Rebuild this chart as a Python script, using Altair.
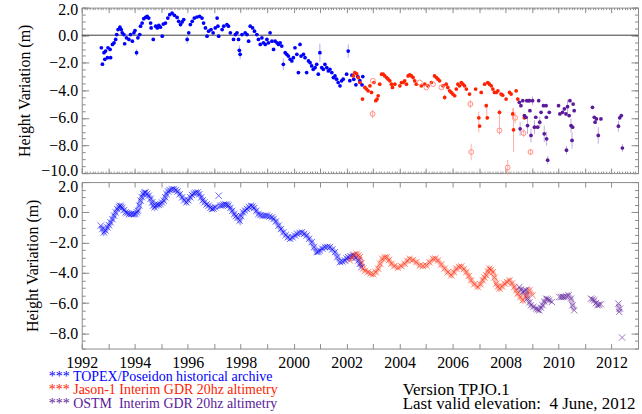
import altair as alt
import pandas as pd

# ---------------- data ----------------
# TOPEX/Poseidon, top panel (filled dots)
tp_year = [1992.74,1992.78,1992.84,1992.87,1992.90,1992.97,1992.99,1993.07,1993.09,1993.16,
           1993.22,1993.28,1993.32,1993.37,1993.44,1993.49,1993.53,1993.59,1993.62,1993.69,
           1993.78,1993.84,1993.91,1993.97,1994.01,1994.07,1994.12,1994.19,1994.22,1994.28,
           1994.34,1994.41,1994.47,1994.53,1994.60,1994.62,1994.70,1994.79,1994.85,1994.91,
           1994.97,1995.04,1995.08,1995.16,1995.25,1995.32,1995.41,1995.50,1995.60,1995.66,
           1995.73,1995.79,1995.85,1995.98,1996.04,1996.10,1996.17,1996.25,1996.35,1996.45,
           1996.54,1996.60,1996.67,1996.73,1996.79,1996.88,1996.96,1997.04,1997.11,1997.14,
           1997.17,1997.30,1997.36,1997.48,1997.54,1997.61,1997.73,1997.80,1997.86,1997.92,
           1997.95,1997.98,1998.05,1998.17,1998.24,1998.30,1998.36,1998.45,1998.52,1998.61,
           1998.67,1998.74,1998.80,1998.86,1998.93,1998.99,1999.05,1999.11,1999.18,1999.24,
           1999.30,1999.37,1999.43,1999.49,1999.55,1999.61,1999.68,1999.74,1999.80,1999.87,
           1999.93,1999.99,2000.05,2000.12,2000.18,2000.24,2000.28,2000.37,2000.43,2000.49,
           2000.56,2000.62,2000.68,2000.74,2000.81,2000.87,2000.93,2000.99,2001.06,2001.12,
           2001.18,2001.25,2001.31,2001.37,2001.44,2001.50,2001.56,2001.62,2001.68,2001.75,
           2001.81,2001.87,2002.00,2002.06,2002.12,2002.20,2002.27,2002.35,2002.42,2002.50,
           2002.58,2002.61]
tp_h = [-0.91,-2.10,-1.27,-1.75,-1.15,-1.63,-0.91,-1.03,-1.63,-0.67,
        -0.55,-0.31,0.05,0.41,0.58,0.41,0.17,0.05,-0.62,-0.19,
        -0.31,0.05,-0.43,0.17,0.34,-1.27,-0.19,0.05,0.65,0.88,
        1.20,1.29,1.37,1.24,0.88,0.53,-0.31,0.65,0.53,0.72,
        0.58,-0.07,0.81,0.88,1.24,1.49,1.60,1.44,1.29,1.01,
        0.77,0.96,1.13,-0.31,0.17,0.77,1.01,1.24,1.32,1.37,
        1.24,0.88,0.53,-0.07,0.29,0.41,0.17,0.53,1.24,0.65,
        -0.07,0.41,0.65,0.77,0.65,0.17,-0.31,0.05,0.17,-0.31,
        -1.10,-1.39,0.05,0.17,0.05,-0.43,0.65,0.53,0.29,0.05,
        -0.31,-0.67,-0.19,-0.55,-0.67,-0.31,-0.55,0.17,-0.43,-1.03,
        -0.43,-0.55,-0.67,-0.55,-0.79,-2.11,-1.27,-1.39,-1.51,-1.75,
        -1.87,-1.63,-0.91,-1.39,-2.71,-0.67,-1.51,-1.39,-1.63,-2.71,
        -1.87,-1.99,-2.23,-2.47,-2.35,-2.11,-2.83,-1.27,-2.35,-2.47,
        -2.11,-2.35,-2.59,-2.47,-2.71,-3.07,-2.95,-3.19,-3.43,-3.67,
        -3.31,-3.19,-2.83,-1.15,-3.30,-2.90,-3.20,-3.60,-3.00,-3.30,
        -3.60,-3.00]
tp_err_year = [1994.07, 1995.98, 1997.95, 1997.98, 1999.61, 2000.99, 2002.06]
tp_err_h = [-1.27, -0.31, -1.10, -1.39, -2.11, -1.27, -1.15]
tp_err_half = [0.25, 0.30, 0.35, 0.35, 0.42, 0.66, 0.48]

# Jason-1, top panel
j1_year = [2002.25,2002.31,2002.38,2002.44,2002.50,2002.60,2002.69,2002.75,2002.81,2002.88,
           2002.94,2003.03,2003.10,2003.15,2003.19,2003.25,2003.32,2003.38,2003.44,2003.51,
           2003.57,2003.63,2003.69,2003.73,2003.82,2004.01,2004.07,2004.13,2004.19,2004.26,
           2004.32,2004.38,2004.45,2004.51,2004.57,2004.63,2004.82,2004.95,2005.07,2005.20,
           2005.32,2005.39,2005.45,2005.51,2005.64,2005.70,2005.76,2005.82,2005.89,2005.95,
           2006.01,2006.08,2006.14,2006.20,2006.26,2006.33,2006.39,2006.45,2006.52,2006.64,
           2006.87,2006.99,2007.02,2007.08,2007.21,2007.27,2007.31,2007.33,2007.39,2007.46,
           2007.52,2007.58,2007.65,2007.71,2007.77,2007.83,2007.89,2008.02,2008.15,2008.21,
           2008.27,2008.30,2008.40,2008.46,2008.71]
j1_h = [-2.95,-2.71,-2.80,-3.07,-3.43,-4.63,-3.79,-3.91,-4.03,-3.67,
        -4.15,-3.43,-4.75,-4.63,-4.39,-3.55,-2.83,-2.83,-2.95,-3.07,
        -3.19,-3.31,-3.55,-3.79,-3.55,-3.67,-3.43,-3.43,-3.31,-3.55,
        -2.95,-2.88,-2.95,-3.07,-3.31,-3.55,-3.67,-3.55,-3.67,-3.43,
        -2.95,-3.07,-3.19,-3.31,-3.67,-4.51,-3.55,-3.79,-4.03,-4.15,
        -4.27,-4.39,-3.91,-3.55,-3.67,-3.43,-3.55,-3.67,-3.91,-4.27,
        -3.91,-5.99,-6.59,-4.15,-3.55,-5.11,-5.99,-3.43,-3.55,-3.67,
        -3.91,-4.15,-4.15,-4.03,-5.59,-4.27,-4.35,-4.63,-4.15,-4.27,
        -5.71,-6.86,-4.03,-4.63,-5.99]
j1o_year = [2002.98, 2002.99, 2004.76, 2005.01, 2005.26, 2005.58, 2006.67, 2006.70,
            2007.77, 2008.08, 2008.36, 2008.68, 2008.94]
j1o_h = [-5.71, -3.31, -3.43, -3.79, -3.55, -3.79, -4.99, -8.47,
         -6.91, -9.60, -5.99, -7.10, -8.47]
j1_err_year = [2002.98, 2005.70, 2006.67, 2006.70, 2006.99, 2007.29, 2007.77,
               2008.08, 2008.27, 2008.30, 2008.36, 2008.68, 2008.94]
j1_err_h = [-5.71, -4.51, -4.99, -8.47, -6.30, -5.55, -6.30,
            -9.60, -5.71, -6.86, -5.99, -7.10, -8.47]
j1_err_half = [0.30, 0.20, 0.30, 0.60, 0.75, 0.60, 0.90,
               0.55, 0.40, 1.60, 0.40, 0.30, 0.20]

# OSTM, top panel
os_year = [2008.52,2008.55,2008.58,2008.65,2008.71,2008.77,2008.80,2008.83,2008.86,2008.90,
           2008.92,2008.96,2009.02,2009.09,2009.14,2009.21,2009.25,2009.29,2009.34,2009.43,
           2009.46,2009.53,2009.54,2009.55,2009.59,2009.65,2010.00,2010.05,2010.15,2010.22,
           2010.28,2010.30,2010.34,2010.40,2010.43,2010.47,2010.51,2010.53,2010.55,2010.59,
           2011.28,2011.35,2011.38,2011.43,2011.50,2011.60,2012.26,2012.31,2012.37,2012.41]
os_h = [-4.87,-6.79,-5.11,-4.75,-5.83,-5.95,-4.75,-6.55,-4.75,-4.75,
        -5.47,-7.27,-4.75,-6.67,-5.95,-6.67,-4.75,-6.31,-5.59,-5.11,
        -7.15,-5.11,-5.95,-7.51,-9.06,-5.59,-5.11,-5.71,-5.59,-5.35,
        -5.71,-8.34,-5.18,-5.83,-4.75,-6.55,-7.63,-6.67,-4.99,-5.47,
        -5.23,-5.95,-6.31,-6.07,-7.27,-6.07,-6.60,-5.99,-5.83,-8.18]
os_err_year = [2008.55, 2008.83, 2008.96, 2009.02, 2009.09, 2009.29, 2009.46, 2009.55,
               2009.59, 2010.30, 2010.34, 2010.47, 2010.51, 2011.50, 2012.26, 2012.41]
os_err_h = [-6.79, -6.55, -7.27, -4.75, -6.67, -6.31, -7.15, -7.51,
            -9.06, -8.34, -5.18, -6.55, -7.63, -7.27, -6.60, -8.18]
os_err_half = [0.50, 0.60, 0.50, 0.30, 0.50, 0.40, 0.60, 0.50,
               0.30, 0.30, 0.50, 0.50, 0.60, 0.60, 0.40, 0.30]

# bottom panel (smoothed series, drawn with x marks)
tpb_year = [1992.72,1992.78,1992.84,1992.90,1992.97,1993.03,1993.09,1993.16,1993.22,1993.28,
            1993.34,1993.40,1993.44,1993.49,1993.53,1993.60,1993.66,1993.72,1993.78,1993.85,
            1993.91,1993.97,1994.03,1994.08,1994.12,1994.17,1994.22,1994.27,1994.32,1994.36,
            1994.41,1994.47,1994.53,1994.60,1994.66,1994.70,1994.75,1994.80,1994.85,1994.91,
            1994.97,1995.03,1995.10,1995.15,1995.20,1995.26,1995.32,1995.40,1995.47,1995.55,
            1995.62,1995.70,1995.79,1995.87,1995.95,1996.02,1996.10,1996.16,1996.23,1996.30,
            1996.38,1996.44,1996.51,1996.57,1996.63,1996.71,1996.79,1996.86,1996.92,1996.98,
            1997.04,1997.23,1997.30,1997.36,1997.42,1997.48,1997.54,1997.61,1997.68,
            1997.76,1997.82,1997.88,1997.96,1998.02,1998.09,1998.16,1998.24,1998.31,1998.39,
            1998.45,1998.51,1998.59,1998.67,1998.75,1998.84,1998.92,1998.99,1999.08,1999.18,
            1999.24,1999.33,1999.43,1999.52,1999.61,1999.70,1999.78,1999.87,1999.96,2000.05,
            2000.13,2000.22,2000.31,2000.40,2000.49,2000.58,2000.68,2000.77,2000.87,2000.93,
            2000.99,2001.08,2001.18,2001.27,2001.37,2001.46,2001.56,2001.65,2001.75,2001.84,
            2001.94,2002.00,2002.06,2002.15,2002.25,2002.35,2002.44,2002.50,2002.56]
tpb_h = [-0.88,-1.10,-1.32,-1.20,-0.99,-0.85,-0.66,-0.45,-0.22,0.00,
         0.22,0.35,0.44,0.38,0.29,0.15,0.00,-0.05,-0.11,-0.12,
         -0.11,-0.13,-0.11,0.00,0.11,0.45,0.77,1.00,1.21,1.30,
         1.32,1.22,1.10,0.90,0.66,0.45,0.33,0.45,0.51,0.50,
         0.55,0.65,0.77,1.00,1.21,1.38,1.47,1.52,1.54,1.48,
         1.38,1.20,0.99,0.80,0.66,0.80,0.99,1.15,1.25,1.30,
         1.32,1.20,0.99,0.80,0.66,0.52,0.44,0.30,0.22,0.25,
         0.33,0.44,0.46,0.51,0.52,0.51,0.45,0.29,0.10,
         -0.11,-0.25,-0.37,-0.55,-0.25,0.00,0.12,0.22,0.35,0.44,
         0.38,0.29,0.10,-0.11,-0.18,-0.22,-0.22,-0.22,-0.28,-0.33,
         -0.44,-0.60,-0.88,-1.10,-1.32,-1.50,-1.65,-1.75,-1.65,-1.53,
         -1.42,-1.35,-1.32,-1.42,-1.53,-1.75,-1.97,-2.30,-2.63,-2.60,
         -2.52,-2.40,-2.30,-2.28,-2.30,-2.45,-2.63,-2.95,-3.29,-3.25,
         -3.18,-3.05,-2.96,-2.90,-2.85,-3.00,-3.18,-3.40,-3.62]
tpb_out_year = [1997.17]
tpb_out_h = [1.10]
j1b_year = [2002.12,2002.20,2002.28,2002.38,2002.44,2002.50,2002.56,2002.62,2002.70,2002.81,
            2002.90,2003.00,2003.10,2003.19,2003.27,2003.35,2003.43,2003.51,2003.60,2003.69,
            2003.80,2003.94,2004.06,2004.19,2004.29,2004.38,2004.50,2004.63,2004.76,2004.88,
            2005.01,2005.13,2005.26,2005.35,2005.45,2005.57,2005.70,2005.82,2005.95,2006.05,
            2006.14,2006.24,2006.33,2006.42,2006.52,2006.61,2006.70,2006.82,2006.95,2007.05,
            2007.14,2007.20,2007.27,2007.33,2007.39,2007.45,2007.52,2007.58,2007.65,2007.71,
            2007.77,2007.87,2007.96,2008.05,2008.15,2008.24,2008.33,2008.40,2008.46,2008.56,
            2008.65,2008.78,2008.90,2009.02]
j1b_h = [-3.18,-3.00,-2.80,-2.74,-2.85,-2.96,-3.35,-3.72,-3.85,-3.95,
         -4.05,-4.10,-3.95,-3.72,-3.40,-3.07,-2.98,-2.96,-3.15,-3.40,
         -3.55,-3.66,-3.55,-3.40,-3.20,-3.07,-3.15,-3.29,-3.51,-3.55,
         -3.51,-3.30,-3.07,-3.05,-3.18,-3.45,-3.72,-3.95,-4.16,-3.95,
         -3.72,-3.60,-3.57,-3.75,-3.95,-4.20,-4.49,-4.75,-4.93,-4.75,
         -4.49,-4.30,-4.16,-3.90,-3.72,-3.80,-3.95,-4.30,-4.71,-4.90,
         -5.04,-4.90,-4.71,-4.60,-4.49,-4.70,-4.93,-5.15,-5.37,-5.60,
         -5.81,-5.50,-5.15,-5.48]
osb_year = [2008.52,2008.58,2008.65,2008.71,2008.77,2008.83,2008.90,2008.96,2009.05,2009.15,
            2009.21,2009.27,2009.34,2009.40,2009.46,2009.53,2009.59,2009.65,2009.75,2010.03,
            2010.10,2010.16,2010.22,2010.30,2010.38,2010.47,2010.53,2010.59,2011.22,2011.28,
            2011.35,2011.41,2011.47,2011.53,2011.60,2012.26,2012.29,2012.32,2012.40]
osb_h = [-4.93,-5.10,-5.26,-5.20,-5.15,-5.70,-5.95,-6.14,-6.25,-6.36,
         -6.42,-6.47,-6.30,-6.14,-5.90,-5.70,-5.75,-5.81,-5.92,-5.59,
         -5.60,-5.58,-5.59,-5.55,-5.48,-5.70,-6.14,-6.47,-5.70,-5.75,
         -5.81,-6.00,-6.14,-6.10,-6.07,-6.03,-6.58,-6.36,-8.27]
# data gaps in the OSTM record: which continuous stretch each point belongs to
osb_seg = [1,1,1,1,1,1,1,1,1,1,
           1,1,1,1,1,1,1,1,1,2,
           2,2,2,2,2,2,2,2,3,3,
           3,3,3,3,3,4,4,4,5]

legend_lines = ["*** TOPEX/Poseidon historical archive",
                "*** Jason-1 Interim GDR 20hz altimetry",
                "*** OSTM\u00a0 Interim GDR 20hz altimetry"]
version_lines = ["Version TPJO.1", "Last valid elevation:\u00a0 4 June, 2012"]
y_title = "Height Variation (m)"

# ---------------- styling ----------------
SERIF = "Liberation Serif"
BLUE = "#0000FF"
RED = "#FF2200"
RED_OPEN = "#FF8F85"
PURPLE = "#5B1A99"
BLUE_ERR = "#A8A8FF"
RED_ERR = "#FFB0A8"
PURPLE_ERR = "#C2ACDE"
FRAME = "#8C8C8C"
XMARK = "M-1,-1L1,1M-1,1L1,-1"

W, H_TOP, H_BOT = 558, 166, 167
legend_colors = [BLUE, RED, PURPLE]

x_scale = alt.Scale(domain=[1992, 2013], nice=False, zero=False)
y_top = alt.Scale(domain=[-10, 2], nice=False, zero=False)
y_bot = alt.Scale(domain=[-9, 2], nice=False, zero=False)

years = list(range(1992, 2014))
top_major = list(range(-10, 3, 2))
bot_major = list(range(-8, 3, 2))
top_minor = [-10 + 0.5 * i for i in range(25)]
bot_minor = [-9 + 0.5 * i for i in range(23)]


def y_axis(orient, size, values, labels=False, title=None, title_x=None, title_y=None,
           label_offset=None):
    kw = dict(orient=orient, offset=-size, tickSize=size, values=values, domain=False,
              grid=False, tickColor=FRAME, labels=labels, labelFlush=False)
    if labels:
        kw.update(format=".1f", labelFont=SERIF, labelFontSize=16, labelColor="black",
                  labelPadding=4, labelOverlap=False)
        if label_offset is not None:
            kw["labelOffset"] = label_offset
    if title:
        kw.update(title=title, titleFont=SERIF, titleFontSize=16, titleFontWeight="normal",
                  titleColor="black", titleX=title_x, titleY=title_y, titleAngle=270,
                  titleAlign="center", titleBaseline="middle")
    else:
        kw["title"] = None
    return alt.Axis(**kw)


def x_axis(orient, size, values=None, tick_count=None, labels=False):
    kw = dict(orient=orient, offset=-size, tickSize=size, domain=False, grid=False,
              tickColor=FRAME, labels=labels, title=None, labelFlush=False)
    if values is not None:
        kw["values"] = values
    if tick_count is not None:
        kw["tickCount"] = tick_count
    if labels:
        kw.update(format="d", labelExpr="datum.value % 2 == 0 ? datum.label : ''",
                  labelFont=SERIF, labelFontSize=16, labelColor="black", labelPadding=6,
                  labelOverlap=False)
    return alt.Axis(**kw)


def err_df(yr, h, half):
    return pd.DataFrame({"year": yr, "lo": [a - b for a, b in zip(h, half)],
                         "hi": [a + b for a, b in zip(h, half)]})


# ---------------- top panel ----------------
df_tp = pd.DataFrame({"year": tp_year, "h": tp_h})
df_j1 = pd.DataFrame({"year": j1_year, "h": j1_h})
df_j1o = pd.DataFrame({"year": j1o_year, "h": j1o_h})
df_os = pd.DataFrame({"year": os_year, "h": os_h})

zero = alt.Chart(pd.DataFrame({"h": [0.0]})).mark_rule(color="#3a3a3a", strokeWidth=1).encode(
    y=alt.Y("h:Q", scale=y_top, axis=None))

tp_err = alt.Chart(err_df(tp_err_year, tp_err_h, tp_err_half)).mark_rule(
    color=BLUE_ERR, strokeWidth=1).encode(
    x=alt.X("year:Q", scale=x_scale, axis=x_axis("bottom", 5, values=years)),
    y=alt.Y("lo:Q", scale=y_top,
            axis=y_axis("left", 7, top_major, labels=True, title=y_title,
                        title_x=-64, title_y=H_TOP / 2,
                        label_offset={"condition": [{"test": "datum.value == -10", "value": -3},
                                                    {"test": "datum.value == 2", "value": 2}],
                                      "value": 0})),
    y2="hi:Q")

tp_pts = alt.Chart(df_tp).mark_circle(size=14, color=BLUE, opacity=1).encode(
    x=alt.X("year:Q", scale=x_scale, axis=x_axis("top", 5, values=years)),
    y=alt.Y("h:Q", scale=y_top, axis=y_axis("right", 7, top_major)))

j1_err = alt.Chart(err_df(j1_err_year, j1_err_h, j1_err_half)).mark_rule(
    color=RED_ERR, strokeWidth=1).encode(
    x=alt.X("year:Q", scale=x_scale, axis=x_axis("bottom", 2, tick_count=210)),
    y=alt.Y("lo:Q", scale=y_top, axis=y_axis("left", 3.5, top_minor)),
    y2="hi:Q")

j1_pts = alt.Chart(df_j1).mark_circle(size=14, color=RED, opacity=1).encode(
    x=alt.X("year:Q", scale=x_scale, axis=x_axis("top", 2, tick_count=210)),
    y=alt.Y("h:Q", scale=y_top, axis=y_axis("right", 3.5, top_minor)))

j1_open = alt.Chart(df_j1o).mark_point(shape="circle", filled=False, size=24, strokeWidth=1,
                                       color=RED_OPEN, opacity=1).encode(
    x=alt.X("year:Q", scale=x_scale, axis=None),
    y=alt.Y("h:Q", scale=y_top, axis=None))

os_err = alt.Chart(err_df(os_err_year, os_err_h, os_err_half)).mark_rule(
    color=PURPLE_ERR, strokeWidth=1).encode(
    x=alt.X("year:Q", scale=x_scale, axis=None),
    y=alt.Y("lo:Q", scale=y_top, axis=None),
    y2="hi:Q")

os_pts = alt.Chart(df_os).mark_circle(size=14, color=PURPLE, opacity=1).encode(
    x=alt.X("year:Q", scale=x_scale, axis=None),
    y=alt.Y("h:Q", scale=y_top, axis=None))

top = alt.layer(zero, tp_err, tp_pts, j1_err, j1_pts, j1_open, os_err, os_pts).resolve_axis(
    x="independent", y="independent").properties(width=W, height=H_TOP)

# ---------------- bottom panel ----------------
df_tpb = pd.DataFrame({"year": tpb_year, "h": tpb_h})
df_tpo = pd.DataFrame({"year": tpb_out_year, "h": tpb_out_h})
df_j1b = pd.DataFrame({"year": j1b_year, "h": j1b_h})
df_osb = pd.DataFrame({"year": osb_year, "h": osb_h, "seg": osb_seg})

X_NONE = alt.X("year:Q", scale=x_scale, axis=None)
Y_NONE = alt.Y("h:Q", scale=y_bot, axis=None)


def band(df, color, opacity=0.33, detail=None):
    enc = dict(x=X_NONE, y=Y_NONE)
    if detail:
        enc["detail"] = detail
    return alt.Chart(df).mark_line(color=color, strokeWidth=5, opacity=opacity,
                                   interpolate="linear").encode(**enc)


tpb_band = band(df_tpb, BLUE)
j1b_band = band(df_j1b, RED, 0.3)
osb_band = band(df_osb, PURPLE, 0.3, detail="seg:N")

tpb = alt.Chart(df_tpb).mark_point(shape=XMARK, filled=False, size=40, strokeWidth=1,
                                   color=BLUE, opacity=0.6).encode(
    x=alt.X("year:Q", scale=x_scale, axis=x_axis("bottom", 5, values=years, labels=True)),
    y=alt.Y("h:Q", scale=y_bot,
            axis=y_axis("left", 7, bot_major, labels=True, title=y_title,
                        title_x=-56, title_y=H_BOT / 2,
                        label_offset={"condition": {"test": "datum.value == 2", "value": 4},
                                      "value": 0})))

tpo = alt.Chart(df_tpo).mark_point(shape=XMARK, filled=False, size=40, strokeWidth=1,
                                   color=BLUE, opacity=0.6).encode(x=X_NONE, y=Y_NONE)

j1b = alt.Chart(df_j1b).mark_point(shape=XMARK, filled=False, size=40, strokeWidth=1,
                                   color=RED, opacity=0.55).encode(
    x=alt.X("year:Q", scale=x_scale, axis=x_axis("top", 5, values=years)),
    y=alt.Y("h:Q", scale=y_bot, axis=y_axis("right", 7, bot_major)))

osb = alt.Chart(df_osb).mark_point(shape=XMARK, filled=False, size=40, strokeWidth=1,
                                   color=PURPLE, opacity=0.6).encode(
    x=X_NONE,
    y=alt.Y("h:Q", scale=y_bot, axis=y_axis("left", 3.5, bot_minor)))

osb_axis = alt.Chart(df_osb).mark_point(opacity=0).encode(
    x=X_NONE,
    y=alt.Y("h:Q", scale=y_bot, axis=y_axis("right", 3.5, bot_minor)))

texts = []
for i, (line, col) in enumerate(zip(legend_lines, legend_colors)):
    texts.append(alt.Chart(pd.DataFrame({"t": [line]})).mark_text(
        align="left", baseline="middle", font=SERIF, fontSize=14, color=col).encode(
        x=alt.value(-33), y=alt.value(195.5 + 13.5 * i), text="t:N"))
for i, line in enumerate(version_lines):
    texts.append(alt.Chart(pd.DataFrame({"t": [line]})).mark_text(
        align="left", baseline="middle", font=SERIF, fontSize=17, color="black").encode(
        x=alt.value(322), y=alt.value(209.0 + 13.6 * i), text="t:N"))

bottom = alt.layer(tpb_band, j1b_band, osb_band, tpb, tpo, j1b, osb, osb_axis,
                   *texts).resolve_axis(
    x="independent", y="independent").properties(width=W, height=H_BOT)

chart = alt.vconcat(top, bottom, spacing=9, bounds="flush").properties(
    padding={"left": 16, "top": 0, "right": 3, "bottom": 0},
    background="white",
).configure_view(stroke=FRAME, strokeWidth=1)

chart.save("out.html", embed_options={"renderer": "svg", "actions": False})
